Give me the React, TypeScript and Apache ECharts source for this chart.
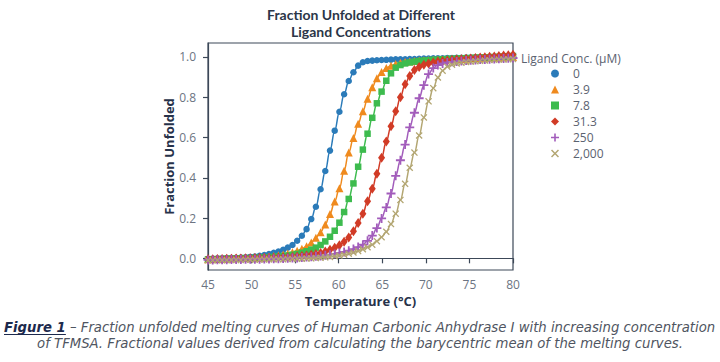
import React, { useEffect, useRef } from "react";
import * as echarts from "echarts";

const temps = [
  45.0, 45.54, 46.08, 46.62, 47.15, 47.69, 48.23, 48.77, 49.31, 49.85,
  50.38, 50.92, 51.46, 52.0, 52.54, 53.08, 53.62, 54.15, 54.69, 55.23,
  55.77, 56.31, 56.85, 57.38, 57.92, 58.46, 59.0, 59.54, 60.08, 60.62,
  61.15, 61.69, 62.23, 62.77, 63.31, 63.85, 64.38, 64.92, 65.46, 66.0,
  66.54, 67.08, 67.62, 68.15, 68.69, 69.23, 69.77, 70.31, 70.85, 71.38,
  71.92, 72.46, 73.0, 73.54, 74.08, 74.62, 75.15, 75.69, 76.23, 76.77,
  77.31, 77.85, 78.38, 78.92, 79.46, 80.0,
];

const conc0 = [
  -0.003, -0.002, -0.001, 0.0, 0.001, 0.002, 0.003, 0.004, 0.005, 0.007,
  0.009, 0.012, 0.016, 0.021, 0.027, 0.034, 0.042, 0.053, 0.066, 0.087,
  0.112, 0.145, 0.195, 0.256, 0.343, 0.434, 0.535, 0.634, 0.728, 0.815,
  0.881, 0.924, 0.957, 0.974, 0.98, 0.982, 0.984, 0.985, 0.986, 0.987,
  0.988, 0.988, 0.989, 0.99, 0.99, 0.991, 0.992, 0.992, 0.993, 0.993,
  0.994, 0.995, 0.995, 0.996, 0.996, 0.997, 0.997, 0.998, 0.999, 0.999,
  1.0, 1.0, 1.001, 1.002, 1.002, 1.003,
];

const conc3_9 = [
  -0.004, -0.003, -0.003, -0.002, -0.001, 0.0, 0.001, 0.001, 0.002, 0.003,
  0.004, 0.005, 0.007, 0.009, 0.012, 0.015, 0.019, 0.024, 0.03, 0.037,
  0.047, 0.06, 0.078, 0.102, 0.13, 0.168, 0.22, 0.282, 0.348, 0.435,
  0.525, 0.598, 0.668, 0.73, 0.792, 0.85, 0.895, 0.925, 0.945, 0.957,
  0.965, 0.971, 0.975, 0.978, 0.98, 0.982, 0.984, 0.985, 0.986, 0.987,
  0.988, 0.989, 0.99, 0.991, 0.992, 0.993, 0.994, 0.995, 0.996, 0.996,
  0.997, 0.998, 0.998, 0.999, 1.0, 1.0,
];

const conc7_8 = [
  -0.005, -0.004, -0.004, -0.003, -0.002, -0.002, -0.001, 0.0, 0.001, 0.001,
  0.002, 0.003, 0.004, 0.005, 0.007, 0.009, 0.011, 0.014, 0.018, 0.022,
  0.028, 0.035, 0.043, 0.053, 0.066, 0.084, 0.107, 0.137, 0.177, 0.23,
  0.295, 0.372, 0.455, 0.54, 0.619, 0.698, 0.77, 0.828, 0.882, 0.919,
  0.947, 0.96, 0.968, 0.973, 0.977, 0.98, 0.982, 0.984, 0.986, 0.987,
  0.989, 0.99, 0.991, 0.992, 0.993, 0.994, 0.995, 0.996, 0.997, 0.998,
  0.999, 1.0, 1.001, 1.002, 1.004, 1.005,
];

const conc31_3 = [
  -0.004, -0.004, -0.003, -0.003, -0.002, -0.002, -0.001, -0.001, 0.0, 0.0,
  0.001, 0.001, 0.002, 0.002, 0.003, 0.004, 0.005, 0.005, 0.007, 0.009,
  0.011, 0.014, 0.018, 0.022, 0.027, 0.034, 0.042, 0.052, 0.065, 0.082,
  0.104, 0.135, 0.175, 0.222, 0.283, 0.345, 0.42, 0.5, 0.58, 0.656,
  0.73, 0.8, 0.865, 0.905, 0.935, 0.95, 0.962, 0.968, 0.973, 0.977,
  0.98, 0.983, 0.985, 0.987, 0.989, 0.991, 0.993, 0.995, 0.997, 0.999,
  1.001, 1.003, 1.005, 1.007, 1.009, 1.011,
];

const conc250 = [
  -0.008, -0.008, -0.007, -0.007, -0.007, -0.006, -0.006, -0.006, -0.005, -0.005,
  -0.004, -0.004, -0.003, -0.003, -0.002, -0.002, -0.001, 0.0, 0.001, 0.002,
  0.004, 0.006, 0.008, 0.01, 0.012, 0.015, 0.018, 0.022, 0.027, 0.032,
  0.038, 0.046, 0.056, 0.068, 0.087, 0.113, 0.15, 0.198, 0.253, 0.322,
  0.41, 0.487, 0.565, 0.65, 0.723, 0.795, 0.86, 0.915, 0.945, 0.96,
  0.968, 0.973, 0.976, 0.978, 0.98, 0.982, 0.984, 0.985, 0.987, 0.988,
  0.989, 0.99, 0.991, 0.993, 0.994, 0.995,
];

const conc2000 = [
  -0.01, -0.01, -0.009, -0.009, -0.009, -0.008, -0.008, -0.008, -0.007, -0.007,
  -0.007, -0.006, -0.006, -0.005, -0.005, -0.004, -0.004, -0.003, -0.003, -0.002,
  -0.002, -0.001, 0.0, 0.001, 0.003, 0.005, 0.007, 0.01, 0.014, 0.018,
  0.023, 0.029, 0.036, 0.045, 0.055, 0.068, 0.085, 0.105, 0.132, 0.17,
  0.222, 0.29, 0.37, 0.45, 0.525, 0.61, 0.7, 0.78, 0.845, 0.898,
  0.932, 0.952, 0.962, 0.968, 0.972, 0.975, 0.977, 0.979, 0.981, 0.983,
  0.985, 0.986, 0.987, 0.988, 0.989, 0.99,
];

const seriesNames = ["0", "3.9", "7.8", "31.3", "250", "2,000"];
const seriesValues = [conc0, conc3_9, conc7_8, conc31_3, conc250, conc2000];
const seriesColors = ["#2b7bb9", "#ef8a1e", "#3dbb4e", "#d13b26", "#a25cbb", "#b3a672"];

const PLUS = "path://M4,0H6V4H10V6H6V10H4V6H0V4H4Z";
const CROSS =
  "path://M1.3,0L5,3.7L8.7,0L10,1.3L6.3,5L10,8.7L8.7,10L5,6.3L1.3,10L0,8.7L3.7,5L0,1.3Z";
const seriesSymbols = ["circle", "triangle", "rect", "diamond", PLUS, CROSS];
const seriesSizes: any[] = [6.5, 8, 6.5, [7, 10], 9, 7];

const yTicks = [0, 0.2, 0.4, 0.6, 0.8, 1.0];

const titleLine1 = "Fraction Unfolded at Different";
const titleLine2 = "Ligand Concentrations";
const legendTitle = "Ligand Conc. (\u03bcM)";
const captionBold = "Figure 1";
const captionRest1 =
  " \u2013 Fraction unfolded melting curves of Human Carbonic Anhydrase I with increasing concentration";
const captionLine2 =
  "of TFMSA. Fractional values derived from calculating the barycentric mean of the melting curves.";

const FONT = "'Open Sans', 'Noto Sans', sans-serif";
const TITLE_FONT = "Lato, 'Open Sans', sans-serif";
const CAP_FONT = "'DejaVu Sans'";

export default function App() {
  const ref = useRef<HTMLDivElement>(null);
  useEffect(() => {
    if (!ref.current) return;
    const chart = echarts.init(ref.current, undefined, { renderer: "svg" });

    const canvas = document.createElement("canvas");
    const ctx = canvas.getContext("2d")!;
    const base = 12;
    ctx.font = `italic bold ${base}px ${CAP_FONT}`;
    const wB0 = ctx.measureText(captionBold).width;
    ctx.font = `italic ${base}px ${CAP_FONT}`;
    const wR0 = ctx.measureText(captionRest1).width;
    const capSize = Math.max(11, Math.min(13.5, (base * 712) / (wB0 + wR0)));
    const scale = capSize / base;
    const wB = wB0 * scale;
    const wR = wR0 * scale;
    const startX = 360 - (wB + wR) / 2;

    const series = seriesNames.map((name, k) => ({
      name,
      type: "line",
      data: temps.map((t, i) => [t, seriesValues[k][i]]),
      smooth: 0.4,
      smoothMonotone: "x",
      symbol: seriesSymbols[k],
      symbolSize: seriesSizes[k],
      showSymbol: true,
      showAllSymbol: true,
      color: seriesColors[k],
      lineStyle: { width: 1.5, color: seriesColors[k] },
      itemStyle: { color: seriesColors[k], borderWidth: 0 },
      emphasis: { disabled: true },
    }));

    const axisColor = "#3c4858";
    const labelColor = "#6c7482";
    const titleStyle = {
      fontFamily: TITLE_FONT,
      fontSize: 14,
      lineHeight: 15,
      fontWeight: "bold",
      fill: "#2b3648",
      align: "center",
      verticalAlign: "middle",
    };

    chart.setOption({
      animation: false,
      backgroundColor: "#ffffff",
      textStyle: { fontFamily: FONT },
      grid: {
        left: 208,
        top: 43,
        width: 305,
        height: 227,
        show: true,
        borderColor: axisColor,
        borderWidth: 1.2,
        backgroundColor: "transparent",
      },
      legend: {
        orient: "vertical",
        left: 546,
        top: 62,
        itemWidth: 8,
        itemHeight: 8,
        itemGap: 3,
        data: seriesNames.map((n, k) => ({
          name: n,
          icon: seriesSymbols[k],
          itemStyle: { color: seriesColors[k] },
        })),
        textStyle: {
          fontFamily: FONT,
          fontSize: 12,
          lineHeight: 13,
          color: "#5b6270",
          padding: [0, 0, 0, 9],
        },
        selectedMode: false,
      },
      xAxis: {
        type: "value",
        min: 45,
        max: 80,
        interval: 5,
        name: "Temperature (\u00b0C)",
        nameLocation: "middle",
        nameGap: 23,
        nameTextStyle: { fontFamily: FONT, fontSize: 13, fontWeight: "bold", color: "#27324a" },
        axisLine: { show: true, lineStyle: { color: axisColor, width: 1.2 } },
        axisTick: { show: true, inside: false, length: 5, lineStyle: { color: axisColor, width: 1.2 } },
        axisLabel: { color: labelColor, fontSize: 12, margin: 8, fontFamily: FONT },
        splitLine: { show: false },
      },
      yAxis: {
        type: "value",
        min: -0.058,
        max: 1.0695,
        name: "Fraction Unfolded",
        nameLocation: "middle",
        nameGap: 27,
        nameRotate: 90,
        nameTextStyle: { fontFamily: FONT, fontSize: 13, fontWeight: "bold", color: "#27324a" },
        axisLine: { show: true, lineStyle: { color: axisColor, width: 1.2 } },
        axisTick: {
          show: true,
          inside: false,
          length: 5,
          customValues: yTicks,
          lineStyle: { color: axisColor, width: 1.2 },
        },
        axisLabel: {
          color: labelColor,
          fontSize: 12,
          margin: 12,
          fontFamily: FONT,
          customValues: yTicks,
          formatter: (v: number) => v.toFixed(1),
        },
        splitLine: { show: false },
      },
      series,
      graphic: [
        { type: "text", x: 361, y: 14.5, style: { ...titleStyle, text: titleLine1 } },
        { type: "text", x: 361, y: 31.5, style: { ...titleStyle, text: titleLine2 } },
        {
          type: "text",
          x: 521,
          y: 58,
          style: {
            text: legendTitle,
            fontFamily: FONT,
            fontSize: 12,
            fill: "#5b6270",
            verticalAlign: "middle",
            align: "left",
          },
        },
        {
          type: "text",
          x: startX,
          y: 327,
          style: {
            text: `{b|${captionBold}}{r|${captionRest1}}`,
            align: "left",
            verticalAlign: "middle",
            rich: {
              b: {
                fontFamily: CAP_FONT,
                fontSize: capSize,
                fontStyle: "italic",
                fontWeight: "bold",
                fill: "#1d2a4d",
                color: "#1d2a4d",
                lineHeight: capSize + 1,
              },
              r: {
                fontFamily: CAP_FONT,
                fontSize: capSize,
                fontStyle: "italic",
                fill: "#4f5561",
                color: "#4f5561",
                lineHeight: capSize + 1,
              },
            },
          },
        },
        {
          type: "line",
          shape: { x1: startX, y1: 334.5, x2: startX + wB, y2: 334.5 },
          style: { stroke: "#1d2a4d", lineWidth: 1 },
        },
        {
          type: "text",
          x: 360,
          y: 343,
          style: {
            text: captionLine2,
            fontFamily: CAP_FONT,
            fontSize: capSize,
            fontStyle: "italic",
            fill: "#4f5561",
            align: "center",
            verticalAlign: "middle",
          },
        },
      ],
    });
    return () => chart.dispose();
  }, []);
  return (
    <div
      ref={ref}
      style={{ position: "fixed", left: 0, top: 0, width: 720, height: 362, background: "#fff" }}
    />
  );
}
